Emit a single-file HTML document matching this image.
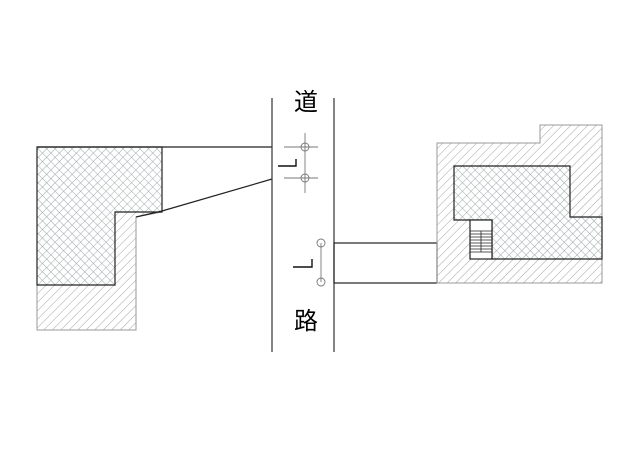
<!DOCTYPE html>
<html><head><meta charset="utf-8"><style>html,body{margin:0;padding:0;background:#fff}svg{display:block}</style></head>
<body>
<svg width="640" height="453" viewBox="0 0 640 453" xmlns="http://www.w3.org/2000/svg">
<defs>
<pattern id="h" width="6" height="6" patternUnits="userSpaceOnUse" patternTransform="rotate(45)">
<line x1="0" y1="0" x2="0" y2="6" stroke="#8c8c8c" stroke-width="0.8"/></pattern>
<pattern id="x" width="6" height="6" patternUnits="userSpaceOnUse" patternTransform="rotate(45)">
<line x1="0" y1="0" x2="0" y2="6" stroke="#8fa0a0" stroke-width="0.9"/>
<line x1="0" y1="0" x2="6" y2="0" stroke="#8fa0a0" stroke-width="0.9"/></pattern>
</defs>
<!-- left -->
<polygon points="37,147 162,147 162,212 136,217 136,330 37,330" fill="url(#h)" stroke="#999" stroke-width="1"/>
<polygon points="37,147 162,147 162,212 115,212 115,285 37,285" fill="#fff"/>
<polygon points="37,147 162,147 162,212 115,212 115,285 37,285" fill="url(#x)" stroke="#222" stroke-width="1.2"/>
<line x1="37" y1="147" x2="272" y2="147" stroke="#222" stroke-width="1.2"/>
<polyline points="136,217 162,211 272,179" fill="none" stroke="#222" stroke-width="1.2"/>
<!-- road -->
<line x1="272" y1="98" x2="272" y2="352" stroke="#333" stroke-width="1.2"/>
<line x1="334" y1="98" x2="334" y2="352" stroke="#333" stroke-width="1.2"/>
<text x="306" y="110" font-family="Liberation Sans, Noto Sans CJK JP, sans-serif" font-size="24" text-anchor="middle">道</text>
<text x="306" y="329" font-family="Liberation Sans, Noto Sans CJK JP, sans-serif" font-size="24" text-anchor="middle">路</text>
<!-- symbols -->
<g stroke="#777" stroke-width="0.9" fill="none">
<line x1="305" y1="133" x2="305" y2="193"/>
<line x1="284" y1="147" x2="318" y2="147"/>
<line x1="284" y1="178" x2="318" y2="178"/>
<circle cx="305" cy="147" r="4"/><circle cx="305" cy="178" r="4"/>
<line x1="321" y1="243" x2="321" y2="282"/>
<circle cx="321" cy="243" r="4"/><circle cx="321" cy="282" r="4"/>
</g>
<polyline points="278,166 296,166 296,159" fill="none" stroke="#111" stroke-width="1.4"/>
<polyline points="293,267 312,267 312,259" fill="none" stroke="#111" stroke-width="1.4"/>
<!-- right -->
<rect x="334" y="243" width="103" height="40" fill="none" stroke="#222" stroke-width="1.2"/>
<polygon points="437,143 540,143 540,125 602,125 602,283 437,283" fill="url(#h)" stroke="#999" stroke-width="1"/>
<polygon points="454,166 570,166 570,217 602,217 602,259 492,259 492,220 454,220" fill="#fff"/>
<polygon points="454,166 570,166 570,217 602,217 602,259 492,259 492,220 454,220" fill="url(#x)" stroke="#222" stroke-width="1.2"/>
<rect x="470" y="220" width="22" height="39" fill="#fff" stroke="#222" stroke-width="1.2"/>
<g stroke="#222" stroke-width="0.8">
<line x1="470" y1="231" x2="492" y2="231"/><line x1="470" y1="234" x2="492" y2="234"/>
<line x1="470" y1="237" x2="492" y2="237"/><line x1="470" y1="240" x2="492" y2="240"/>
<line x1="470" y1="243" x2="492" y2="243"/><line x1="470" y1="246" x2="492" y2="246"/>
<line x1="470" y1="249" x2="492" y2="249"/><line x1="470" y1="252" x2="492" y2="252"/>
<line x1="481" y1="231" x2="481" y2="252"/>
</g>
</svg>
</body></html>
